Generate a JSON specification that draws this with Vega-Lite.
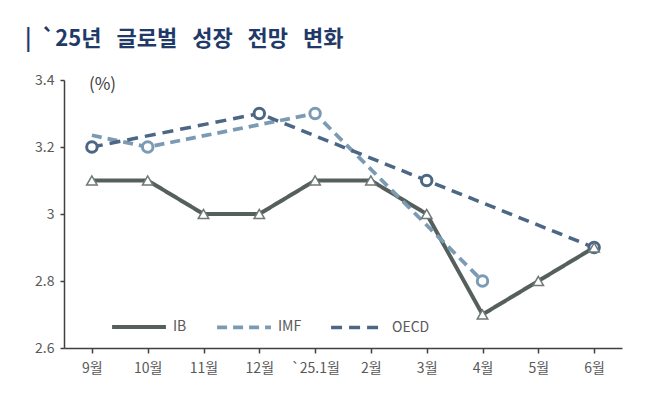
{
  "$schema": "https://vega.github.io/schema/vega-lite/v6.json",
  "autosize": "none",
  "width": 558,
  "height": 268,
  "padding": {"left": 64, "top": 80, "right": 48, "bottom": 49},
  "background": "white",
  "title": {
    "text": "| \u00a0`25년\u00a0\u00a0 글로벌\u00a0\u00a0 성장\u00a0\u00a0 전망\u00a0\u00a0 변화",
    "anchor": "start",
    "frame": "group",
    "dx": -39,
    "offset": 22,
    "font": "Noto Sans CJK KR",
    "fontSize": 22,
    "fontWeight": "bold",
    "color": "#1f3a68"
  },
  "config": {
    "view": {"stroke": null},
    "font": "Noto Sans CJK KR",
    "axis": {
      "labelFont": "Noto Sans CJK KR",
      "labelFontSize": 14,
      "labelColor": "#595959",
      "domainColor": "#404040",
      "domainWidth": 1.5,
      "tickColor": "#404040",
      "tickWidth": 1.5,
      "grid": false
    },
    "legend": {
      "labelOffset": 5,
      "columnPadding": 22,
      "symbolSize": 2900
    }
  },
  "data": {
    "values": [
      {"month": "9월", "series": "IB", "value": 3.1},
      {"month": "10월", "series": "IB", "value": 3.1},
      {"month": "11월", "series": "IB", "value": 3.0},
      {"month": "12월", "series": "IB", "value": 3.0},
      {"month": "`25.1월", "series": "IB", "value": 3.1},
      {"month": "2월", "series": "IB", "value": 3.1},
      {"month": "3월", "series": "IB", "value": 3.0},
      {"month": "4월", "series": "IB", "value": 2.7},
      {"month": "5월", "series": "IB", "value": 2.8},
      {"month": "6월", "series": "IB", "value": 2.9},
      {"month": "9월", "series": "IMF", "value": 3.235},
      {"month": "10월", "series": "IMF", "value": 3.2},
      {"month": "`25.1월", "series": "IMF", "value": 3.3},
      {"month": "4월", "series": "IMF", "value": 2.8},
      {"month": "9월", "series": "OECD", "value": 3.2},
      {"month": "12월", "series": "OECD", "value": 3.3},
      {"month": "3월", "series": "OECD", "value": 3.1},
      {"month": "6월", "series": "OECD", "value": 2.9}
    ]
  },
  "encoding": {
    "x": {
      "field": "month",
      "type": "nominal",
      "sort": ["9월", "10월", "11월", "12월", "`25.1월", "2월", "3월", "4월", "5월", "6월"],
      "scale": {"paddingInner": 0, "paddingOuter": 0},
      "axis": {"title": null, "labelAngle": 0, "bandPosition": 0, "tickSize": 5, "labelPadding": 8}
    },
    "y": {
      "field": "value",
      "type": "quantitative",
      "scale": {"domain": [2.6, 3.4], "zero": false, "nice": false},
      "axis": {
        "values": [2.6, 2.8, 3.0, 3.2, 3.4],
        "labelExpr": "format(datum.value, '~g')",
        "tickSize": 4,
        "labelPadding": 6,
        "title": "(%)",
        "titleAngle": 0,
        "titleX": 38,
        "titleY": 4,
        "titleAlign": "center",
        "titleBaseline": "middle",
        "titleFont": "Noto Sans CJK KR",
        "titleFontSize": 17,
        "titleFontWeight": "normal",
        "titleColor": "#404040"
      }
    },
    "color": {
      "field": "series",
      "type": "nominal",
      "scale": {"domain": ["IB", "IMF", "OECD"], "range": ["#55605e", "#7b9bb5", "#4c6786"]},
      "legend": {
        "title": null,
        "orient": "none",
        "legendX": 46,
        "legendY": 218,
        "direction": "horizontal",
        "symbolType": "stroke",
        "symbolStrokeWidth": 4,
        "labelFont": "Noto Sans CJK KR",
        "labelFontSize": 14,
        "labelColor": "#595959"
      }
    }
  },
  "layer": [
    {
      "mark": {"type": "line"},
      "encoding": {
        "strokeDash": {
          "field": "series",
          "type": "nominal",
          "scale": {"domain": ["IB", "IMF", "OECD"], "range": [[1, 0], [10, 6], [11, 7]]},
          "legend": null
        },
        "strokeWidth": {
          "field": "series",
          "type": "nominal",
          "scale": {"domain": ["IB", "IMF", "OECD"], "range": [4, 3.5, 3.5]},
          "legend": null
        }
      }
    },
    {
      "transform": [
        {"filter": "datum.series != 'IB' && !(datum.series == 'IMF' && datum.month == '9월')"}
      ],
      "mark": {"type": "point", "shape": "circle", "filled": false, "fill": "white", "fillOpacity": 1, "size": 110, "strokeWidth": 3, "opacity": 1}
    },
    {
      "transform": [{"filter": "datum.series == 'IB'"}],
      "mark": {"type": "point", "shape": "triangle-up", "filled": false, "fill": "white", "fillOpacity": 1, "size": 110, "strokeWidth": 1.5, "opacity": 1, "color": "#6f7a78"},
      "encoding": {"color": {"value": "#6f7a78"}}
    }
  ]
}
